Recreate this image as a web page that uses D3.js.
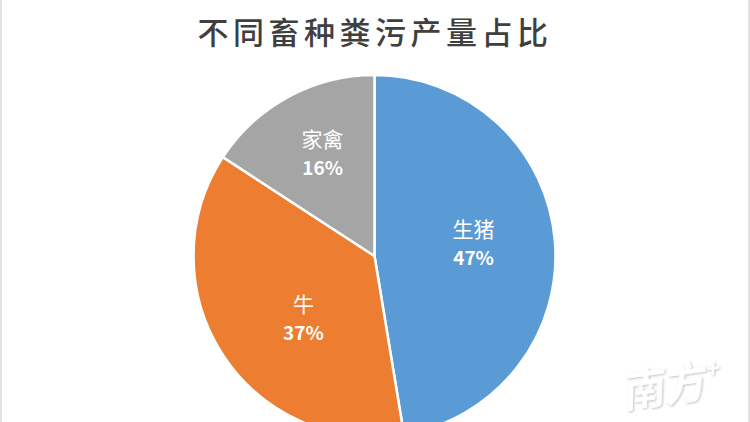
<!DOCTYPE html>
<html>
<head>
<meta charset="utf-8">
<script src="https://cdn.jsdelivr.net/npm/d3@7"></script>
<style>
  html, body { margin: 0; padding: 0; background: #fff; overflow: hidden; }
  text { font-family: "Noto Sans CJK SC", sans-serif; }
</style>
</head>
<body>
<svg id="chart" width="750" height="422"></svg>
<script>
const width = 750;
const height = 422;
const title = '不同畜种粪污产量占比';
const categories = ['生猪', '牛', '家禽'];
const values = [47.4, 36.8, 15.8];
const percentLabels = ['47%', '37%', '16%'];
const colors = ['#5b9bd5', '#ed7d31', '#a5a5a5'];

const cx = 374.5, cy = 256, radius = 181;
const labelNudge = [[-20, -5], [29, -5], [5, 0]]; // best-fit placement, not on the centroid

const svg = d3.select('#chart');
svg.append('rect').attr('width', width).attr('height', height).attr('fill', '#fff');

// grey scan edges left and right
svg.append('rect').attr('x', 0).attr('width', 2).attr('height', height).attr('fill', '#e2e2e2');
svg.append('rect').attr('x', 748).attr('width', 2).attr('height', height).attr('fill', '#e2e2e2');

svg.append('text')
  .attr('x', 375).attr('y', 44)
  .attr('text-anchor', 'middle')
  .attr('font-size', 31)
  .attr('font-weight', 500)
  .attr('letter-spacing', 4.5)
  .attr('fill', '#3f3f3f')
  .text(title);

const pie = d3.pie().value(d => d).sort(null);
const arc = d3.arc().innerRadius(0).outerRadius(radius);
const labelArc = d3.arc().innerRadius(radius * 0.66).outerRadius(radius * 0.66);
const slices = pie(values);

const g = svg.append('g').attr('transform', `translate(${cx},${cy})`);

g.selectAll('path')
  .data(slices)
  .join('path')
  .attr('d', arc)
  .attr('fill', (d, i) => colors[i])
  .attr('stroke', '#fff')
  .attr('stroke-width', 2.5);

const labels = g.selectAll('g.label')
  .data(slices)
  .join('g')
  .attr('class', 'label')
  .attr('transform', (d, i) => {
    const [x, y] = labelArc.centroid(d);
    return `translate(${x + labelNudge[i][0]},${y + labelNudge[i][1]})`;
  });

labels.append('text')
  .attr('text-anchor', 'middle')
  .attr('y', -4)
  .attr('font-size', 21)
  .attr('fill', '#fff')
  .text((d, i) => categories[i]);

labels.append('text')
  .attr('text-anchor', 'middle')
  .attr('y', 24)
  .attr('font-size', 19)
  .attr('font-weight', 700)
  .attr('fill', '#fff')
  .text((d, i) => percentLabels[i]);

// watermark
const mark = svg.append('g')
  .attr('transform', 'translate(624,408) rotate(-8) skewX(-10)')
  .style('filter', 'drop-shadow(1px 1px 1px rgba(0,0,0,0.25))');
mark.append('text').attr('font-size', 42).attr('font-weight', 700).attr('fill', '#fff').text('南方');
mark.append('text').attr('x', 82).attr('y', -18).attr('font-size', 24).attr('font-weight', 700).attr('fill', '#fff').text('+');
</script>
</body>
</html>
